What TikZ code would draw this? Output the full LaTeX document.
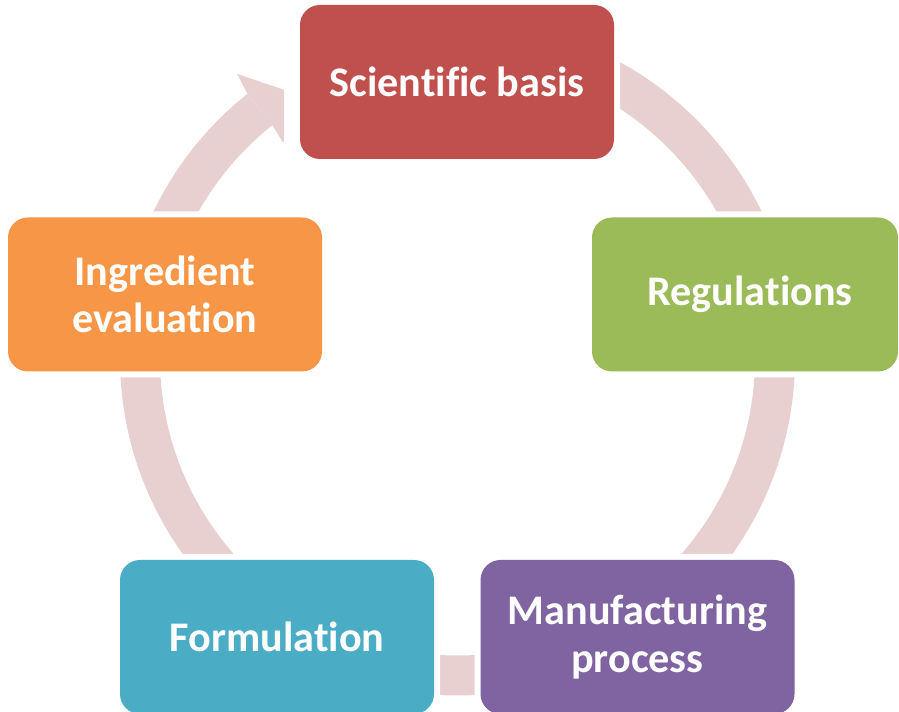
\documentclass[tikz,border=0pt]{standalone}
\usepackage{fontspec}
\setmainfont{Carlito}[Ligatures=NoCommon]
\usetikzlibrary{calc}
\definecolor{ringpink}{RGB}{232,207,208}
\definecolor{scired}{RGB}{192,80,77}
\definecolor{reggreen}{RGB}{155,187,89}
\definecolor{manpurple}{RGB}{128,100,162}
\definecolor{formteal}{RGB}{75,172,198}
\definecolor{ingorange}{RGB}{247,150,70}
\begin{document}
\begin{tikzpicture}[
  stage/.style={rectangle, rounded corners=0.4cm, minimum width=6.28cm, minimum height=3.08cm,
    inner sep=0pt, align=center, text=white, font=\fontsize{24}{27}\selectfont\bfseries,
    preaction={draw=white, line width=0.24cm}}
]
\useasboundingbox (0,0) rectangle (17.98,14.24);
\coordinate (c) at (9.15,7.08);
\coordinate (tip) at (6.4,12.2);
\draw[ringpink, line width=0.8cm] ($(c)+(90:6.35)$) arc[start angle=90, end angle=-231.5, radius=6.35];
\begin{scope}
\clip (0,0) rectangle (5.68,14.24);
\fill[ringpink] ($(c)+(127.8:7.19)$) -- (tip) -- ($(c)+(129:5.55)$) -- ($(c)+(128.5:5.95)$)
  -- ($(c)+(128.5:6.75)$) -- cycle;
\end{scope}
\node[stage, fill=scired] (sci) at (9.14,12.6) {Scientific basis};
\node[stage, fill=reggreen, minimum width=6.12cm] (reg) at (14.9,8.35) {\hspace{0.2cm}Regulations};
\node[stage, fill=manpurple] (man) at (12.75,1.5) {Manufacturing\\process};
\node[stage, fill=formteal] (form) at (5.54,1.5) {Formulation};
\node[stage, fill=ingorange] (ing) at (3.3,8.35) {Ingredient\\evaluation};
\end{tikzpicture}
\end{document}
